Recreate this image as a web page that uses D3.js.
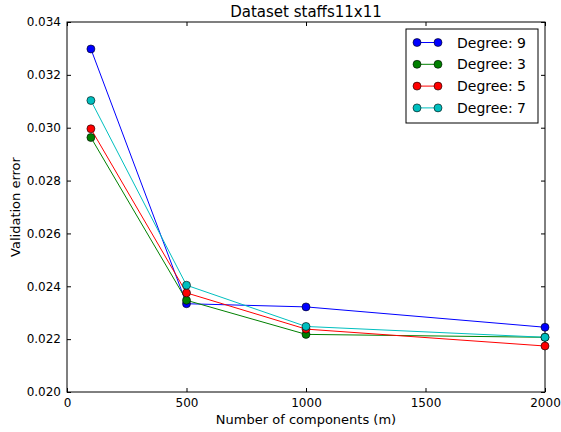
<!DOCTYPE html>
<html>
<head>
<meta charset="utf-8">
<script src="https://cdn.jsdelivr.net/npm/d3@7"></script>
<style>
  body { margin: 0; background: #fff; }
  text { font-family: "DejaVu Sans", sans-serif; fill: #000; }
</style>
</head>
<body>
<svg id="chart" width="561" height="432"></svg>
<script>
// Chart data
const components = [100, 500, 1000, 2000];
const degree9 = [0.03298, 0.02334, 0.02322, 0.02245];
const degree3 = [0.02963, 0.02347, 0.02218, 0.02207];
const degree5 = [0.02996, 0.02375, 0.02238, 0.02174];
const degree7 = [0.03103, 0.02404, 0.02248, 0.02207];
const xTicks = [0, 500, 1000, 1500, 2000];
const yTicks = [0.020, 0.022, 0.024, 0.026, 0.028, 0.030, 0.032, 0.034];

const series = [
  { name: 'Degree: 9', values: degree9, color: '#0000ff' },
  { name: 'Degree: 3', values: degree3, color: '#008000' },
  { name: 'Degree: 5', values: degree5, color: '#ff0000' },
  { name: 'Degree: 7', values: degree7, color: '#00bfbf' }
];

const margin = { left: 67, right: 16, top: 22, bottom: 40 };
const width = 561, height = 432;
const svg = d3.select('#chart');

const x = d3.scaleLinear().domain([0, 2000]).range([margin.left, width - margin.right]);
const y = d3.scaleLinear().domain([0.020, 0.034]).range([height - margin.bottom, margin.top]);

// Axes with inward ticks on all four sides
const tickLen = 4;
svg.append('g')
  .attr('transform', `translate(0,${y.range()[0]})`)
  .call(d3.axisBottom(x).tickValues(xTicks).tickSize(-tickLen).tickPadding(6).tickFormat(d3.format('d')))
  .call(g => g.select('.domain').remove())
  .call(g => g.selectAll('text').style('font-size', '12px'));

svg.append('g')
  .attr('transform', `translate(0,${y.range()[1]})`)
  .call(d3.axisTop(x).tickValues(xTicks).tickSize(-tickLen).tickFormat(''))
  .call(g => g.select('.domain').remove());

svg.append('g')
  .attr('transform', `translate(${x.range()[0]},0)`)
  .call(d3.axisLeft(y).tickValues(yTicks).tickSize(-tickLen).tickPadding(6).tickFormat(d3.format('.3f')))
  .call(g => g.select('.domain').remove())
  .call(g => g.selectAll('text').style('font-size', '12px'));

svg.append('g')
  .attr('transform', `translate(${x.range()[1]},0)`)
  .call(d3.axisRight(y).tickValues(yTicks).tickSize(-tickLen).tickFormat(''))
  .call(g => g.select('.domain').remove());

// Frame
svg.append('rect')
  .attr('x', x.range()[0])
  .attr('y', y.range()[1])
  .attr('width', x.range()[1] - x.range()[0])
  .attr('height', y.range()[0] - y.range()[1])
  .style('fill', 'none')
  .style('stroke', '#000')
  .style('stroke-width', 1);

// Lines and markers
const line = d3.line()
  .x((d, i) => x(components[i]))
  .y(d => y(d));

series.forEach(s => {
  svg.append('path')
    .datum(s.values)
    .attr('d', line)
    .style('fill', 'none')
    .style('stroke', s.color)
    .style('stroke-width', 1);
});

series.forEach(s => {
  svg.selectAll(null)
    .data(s.values)
    .join('circle')
    .attr('cx', (d, i) => x(components[i]))
    .attr('cy', d => y(d))
    .attr('r', 4)
    .style('fill', s.color)
    .style('stroke', '#000')
    .style('stroke-width', 0.6);
});

// Title and axis labels
svg.append('text')
  .attr('x', (x.range()[0] + x.range()[1]) / 2)
  .attr('y', 17)
  .attr('text-anchor', 'middle')
  .style('font-size', '15px')
  .text('Dataset staffs11x11');

svg.append('text')
  .attr('x', (x.range()[0] + x.range()[1]) / 2)
  .attr('y', 424)
  .attr('text-anchor', 'middle')
  .style('font-size', '13px')
  .text('Number of components (m)');

svg.append('text')
  .attr('transform', `translate(20,${(y.range()[0] + y.range()[1]) / 2}) rotate(-90)`)
  .attr('text-anchor', 'middle')
  .style('font-size', '13px')
  .text('Validation error');

// Legend
const legend = svg.append('g').attr('transform', 'translate(406,29)');
legend.append('rect')
  .attr('width', 132)
  .attr('height', 94)
  .style('fill', '#fff')
  .style('stroke', '#000')
  .style('stroke-width', 1);

series.forEach((s, i) => {
  const ly = 13.5 + i * 21.8;
  const row = legend.append('g').attr('transform', `translate(0,${ly})`);
  row.append('line')
    .attr('x1', 11).attr('x2', 32)
    .attr('y1', 0).attr('y2', 0)
    .style('stroke', s.color)
    .style('stroke-width', 1);
  [11, 32].forEach(cx => {
    row.append('circle')
      .attr('cx', cx).attr('cy', 0).attr('r', 4)
      .style('fill', s.color)
      .style('stroke', '#000')
      .style('stroke-width', 0.6);
  });
  row.append('text')
    .attr('x', 51)
    .attr('y', 5)
    .style('font-size', '14px')
    .text(s.name);
});
</script>
</body>
</html>
